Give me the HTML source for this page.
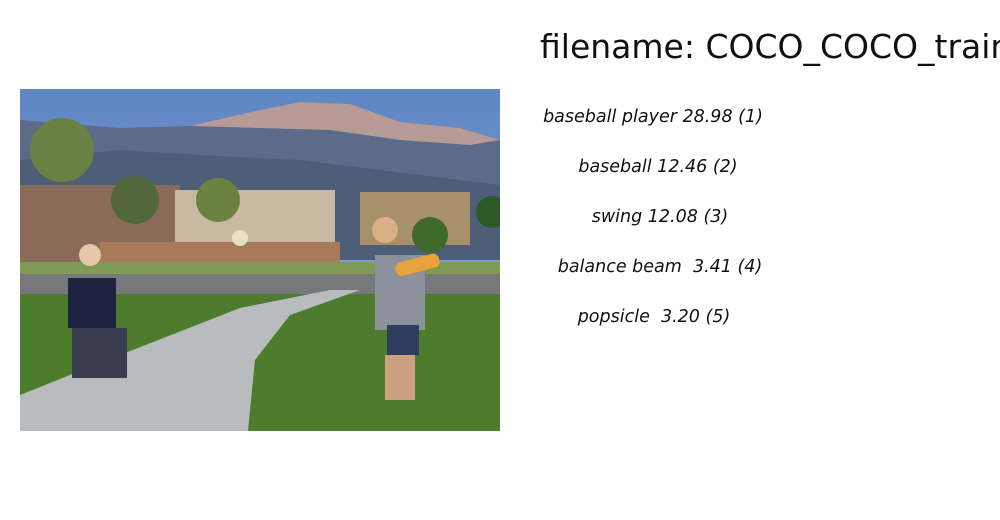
<!DOCTYPE html>
<html><head><meta charset="utf-8"><style>
html,body{margin:0;padding:0;background:#fff;width:1000px;height:520px;overflow:hidden}
text{font-family:"DejaVu Sans","Liberation Sans",sans-serif;white-space:pre}
</style></head><body>
<svg width="1000" height="520" viewBox="0 0 1000 520">
<g>
<defs><clipPath id="c"><rect x="20" y="89" width="480" height="342"/></clipPath>
<linearGradient id="sky" x1="0" y1="0" x2="0" y2="1"><stop offset="0" stop-color="#5d86c4"/><stop offset="1" stop-color="#9fb5d6"/></linearGradient></defs>
<g clip-path="url(#c)">
<rect x="20" y="89" width="480" height="342" fill="url(#sky)"/>
<polygon points="20,120 120,128 190,126 260,110 300,102 350,104 400,122 460,128 500,140 500,230 20,230" fill="#5d6b8a"/>
<polygon points="190,126 260,110 300,102 350,104 400,122 460,128 500,140 470,145 400,140 330,130 260,128" fill="#b59a95"/>
<polygon points="20,160 120,150 200,155 300,160 420,175 500,185 500,260 20,260" fill="#4e5e78"/>
<rect x="20" y="185" width="160" height="80" fill="#8a6a58"/>
<rect x="175" y="190" width="160" height="60" fill="#c9b9a2"/>
<rect x="360" y="192" width="110" height="53" fill="#a8906a"/>
<rect x="100" y="242" width="240" height="20" fill="#a87a58"/>
<circle cx="62" cy="150" r="32" fill="#6a8045"/>
<circle cx="218" cy="200" r="22" fill="#6c8240"/>
<circle cx="135" cy="200" r="24" fill="#53683a"/>
<circle cx="430" cy="235" r="18" fill="#3f6a2c"/>
<circle cx="492" cy="212" r="16" fill="#2c5a25"/>
<rect x="20" y="262" width="480" height="14" fill="#7e9a55"/>
<rect x="20" y="274" width="480" height="22" fill="#77787c"/>
<rect x="20" y="294" width="480" height="140" fill="#4d7d2c"/>
<polygon points="20,395 120,355 240,308 330,290 360,290 290,315 255,360 248,431 20,431" fill="#b9bcbf"/>
<rect x="68" y="278" width="48" height="50" fill="#1e2440"/>
<circle cx="90" cy="255" r="11" fill="#e6c8a8"/>
<rect x="72" y="328" width="55" height="50" fill="#3a3c50"/>
<rect x="375" y="255" width="50" height="75" fill="#8c929c"/>
<circle cx="385" cy="230" r="13" fill="#d8b088"/>
<rect x="387" y="325" width="32" height="30" fill="#2f3e5e"/>
<rect x="385" y="355" width="30" height="45" fill="#caa080"/>
<rect x="395" y="258" width="45" height="14" rx="6" fill="#e8a23c" transform="rotate(-15 417 265)"/>
<circle cx="240" cy="238" r="8" fill="#e8e2c8"/>
</g></g>
<text x="540" y="58" font-size="33" fill="#111">filename: COCO_COCO_train</text>
<g font-size="17.5" font-style="italic" fill="#111" text-anchor="middle">
<text x="653" y="122">baseball player 28.98 (1)</text>
<text x="658" y="172">baseball 12.46 (2)</text>
<text x="660" y="222">swing 12.08 (3)</text>
<text x="660" y="272">balance beam  3.41 (4)</text>
<text x="654" y="322">popsicle  3.20 (5)</text>
</g>
</svg>
</body></html>
